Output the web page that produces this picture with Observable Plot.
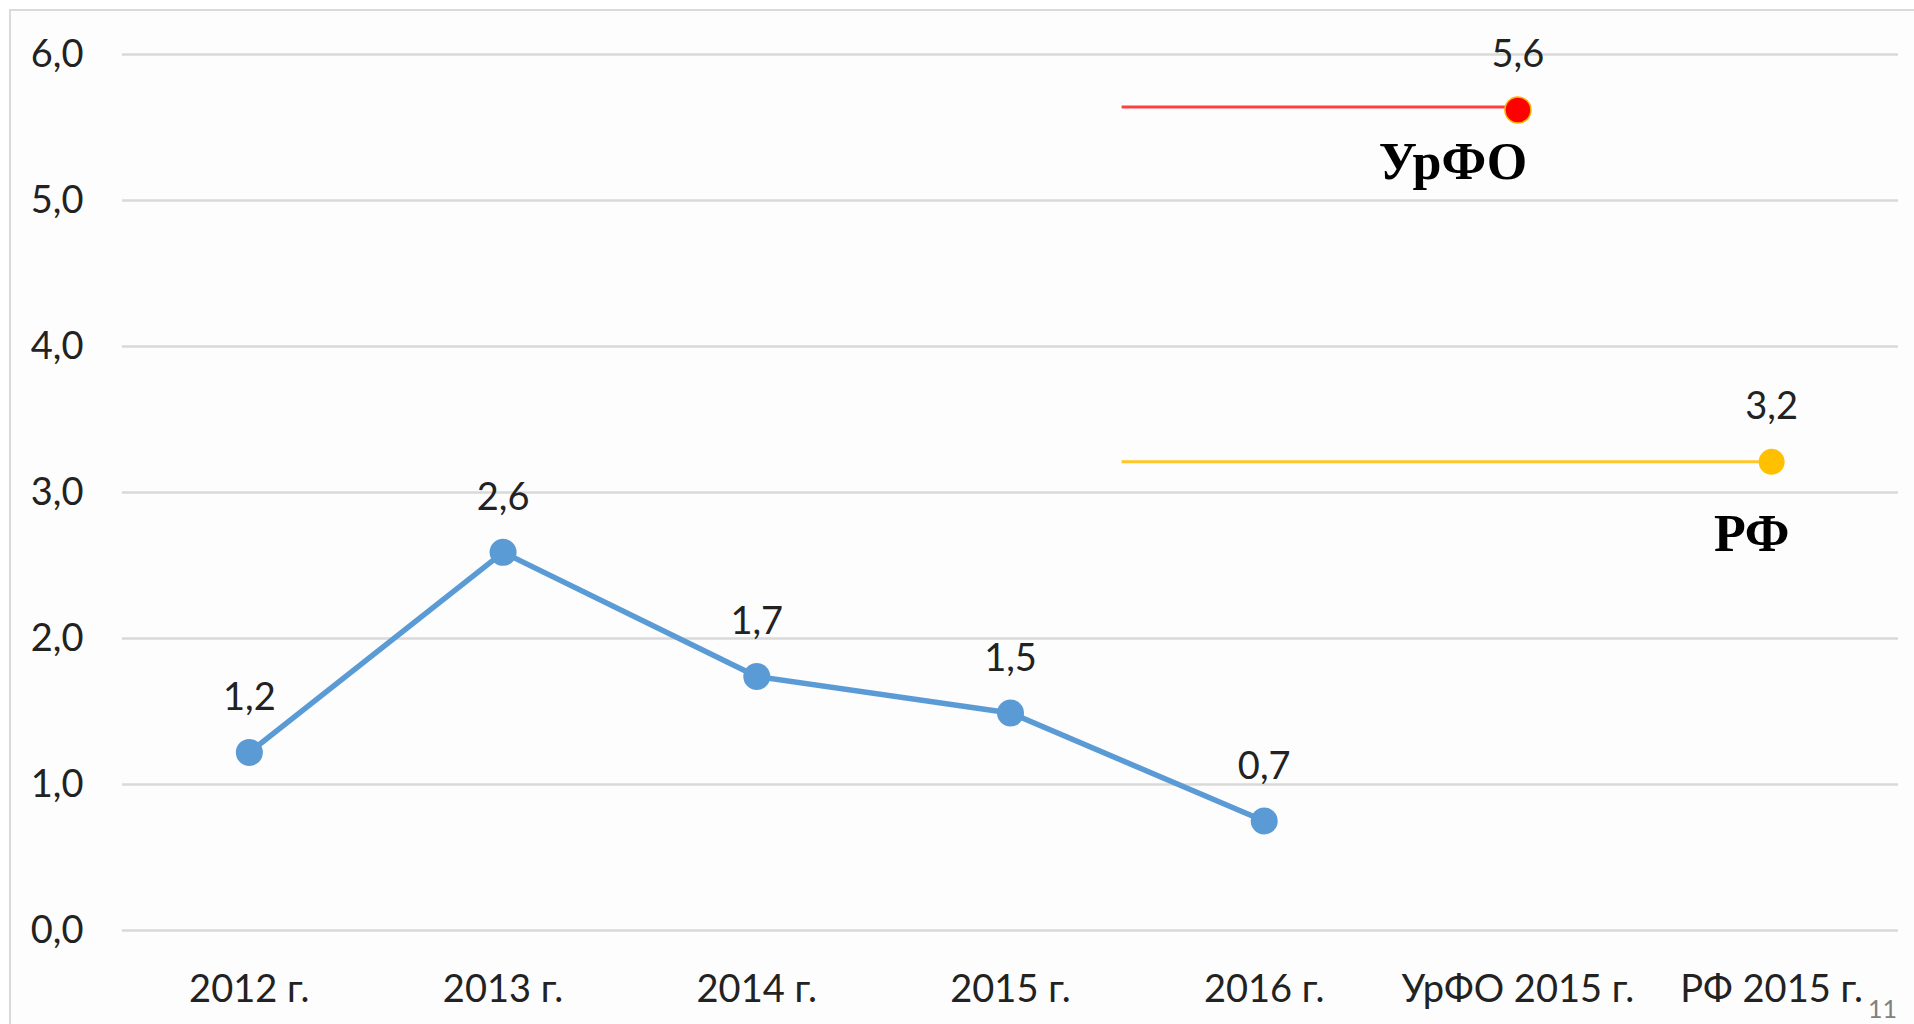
<!DOCTYPE html>
<html>
<head>
<meta charset="utf-8">
<script src="https://cdn.jsdelivr.net/npm/d3@7"></script>
<script src="https://cdn.jsdelivr.net/npm/@observablehq/plot@0.6"></script>
<style>
  html, body { margin: 0; padding: 0; background: #ffffff; overflow: hidden; width: 1914px; height: 1024px; }
  #frame { position: absolute; left: 9px; top: 9px; width: 2000px; height: 1200px; border: 2px solid #dadada; background: #fdfdfd; }
  #chart { position: absolute; left: 0; top: 0; }
  #page { position: absolute; left: 1868px; top: 993px; font: 25px Lato, sans-serif; color: #808080; }
</style>
</head>
<body>
<div id="frame"></div>
<div id="chart"></div>
<div id="page">11</div>
<script>
// ---- data ----
const categories = ["2012 г.", "2013 г.", "2014 г.", "2015 г.", "2016 г.", "УрФО 2015 г.", "РФ 2015 г."];
const yearValues = [1.22, 2.59, 1.74, 1.49, 0.75];
const yearLabels = ["1,2", "2,6", "1,7", "1,5", "0,7"];
const benchmarkNames = ["УрФО", "РФ"];
const benchmarkValues = [5.62, 3.21];
const benchmarkLabels = ["5,6", "3,2"];
const yTicks = [0, 1, 2, 3, 4, 5, 6];

// ---- derived tables ----
const years = yearValues.map((v, i) => ({i, v, label: yearLabels[i]}));
const bench = benchmarkNames.map((name, k) => ({
  name, i: 5 + k, v: benchmarkValues[k], label: benchmarkLabels[k]
}));
const urfo = bench.filter(d => d.name === "УрФО");
const rf = bench.filter(d => d.name === "РФ");
const lineStart = 3.44; // where the benchmark reference lines begin (x index)

const chart = Plot.plot({
  width: 1914,
  height: 1024,
  marginLeft: 122,
  marginRight: 16,
  marginTop: 54,
  marginBottom: 94,
  style: {fontFamily: "Lato, sans-serif", fontSize: "38px", color: "#222", background: "transparent", overflow: "visible"},
  x: {type: "linear", domain: [-0.5, categories.length - 0.5], ticks: d3.range(categories.length),
      tickFormat: i => categories[i], tickSize: 0, tickPadding: 45, label: null},
  y: {domain: [0, 6], ticks: yTicks, tickFormat: d => d.toFixed(1).replace(".", ","),
      tickSize: 0, tickPadding: 39, label: null},
  marks: [
    Plot.ruleY(yTicks, {stroke: "#d9d9d9", strokeWidth: 2.5}),
    Plot.axisX({ticks: d3.range(categories.length), tickFormat: i => categories[i], tickSize: 0, tickPadding: 45, fill: "#222"}),
    Plot.axisY({ticks: yTicks, tickFormat: d => d.toFixed(1).replace(".", ","), tickSize: 0, tickPadding: 39, fill: "#222"}),
    Plot.line(years, {x: "i", y: "v", stroke: "#5B9BD5", strokeWidth: 5.5}),
    Plot.dot(years, {x: "i", y: "v", r: 13.5, fill: "#5B9BD5"}),
    Plot.ruleY(urfo, {y: "v", x1: () => lineStart, x2: "i", dy: -3, stroke: "#FF4040", strokeWidth: 3}),
    Plot.dot(urfo, {x: "i", y: "v", r: 13, fill: "#FF0000", stroke: "#FFB000", strokeWidth: 1.5}),
    Plot.ruleY(rf, {y: "v", x1: () => lineStart, x2: "i", stroke: "#FFC626", strokeWidth: 3}),
    Plot.dot(rf, {x: "i", y: "v", r: 13, fill: "#FFC000"}),
    Plot.text(years, {x: "i", y: "v", text: "label", lineAnchor: "bottom", dy: -42, fill: "#222"}),
    Plot.text(bench, {x: "i", y: "v", text: "label", lineAnchor: "bottom", dy: -43, fill: "#222"}),
    Plot.text(urfo, {x: "i", y: "v", text: "name", lineAnchor: "bottom", dx: -65, dy: 69,
      fontFamily: "Liberation Serif, serif", fontWeight: "bold", fontSize: 52, fill: "#000"}),
    Plot.text(rf, {x: "i", y: "v", text: "name", lineAnchor: "bottom", dx: -20, dy: 89,
      fontFamily: "Liberation Serif, serif", fontWeight: "bold", fontSize: 52, fill: "#000"})
  ]
});
document.getElementById("chart").appendChild(chart);
</script>
</body>
</html>
